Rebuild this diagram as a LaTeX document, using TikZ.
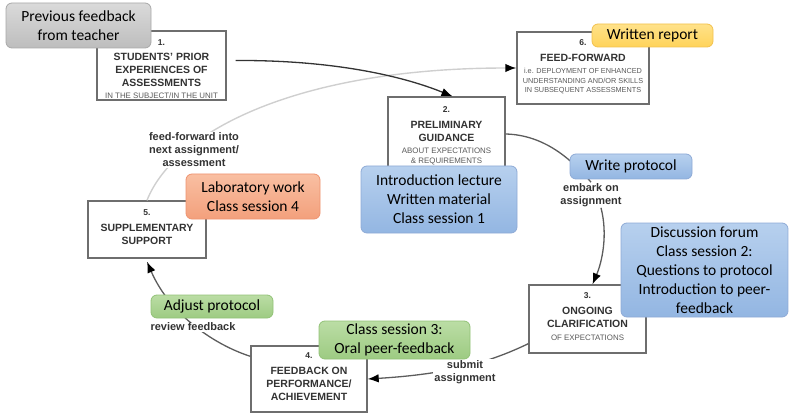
\documentclass[tikz,border=0pt]{standalone}
\usepackage{fontspec}
\setmainfont{Liberation Sans}
\newfontfamily\calfont{Carlito}
\usetikzlibrary{arrows.meta}
\definecolor{boxline}{HTML}{6E6E6E}
\definecolor{titlegray}{HTML}{333333}
\definecolor{subgray}{HTML}{5A5A5A}
\definecolor{conngray}{HTML}{5C5C5C}
\definecolor{ffgray}{HTML}{CFCFCF}
\definecolor{grayT}{HTML}{DADADA}\definecolor{grayB}{HTML}{BDBDBD}\definecolor{grayL}{HTML}{A8A8A8}
\definecolor{yelT}{HTML}{FFE28A}\definecolor{yelB}{HTML}{FFD35A}\definecolor{yelL}{HTML}{F2C14E}
\definecolor{bluT}{HTML}{B7D0EE}\definecolor{bluB}{HTML}{93B6E2}\definecolor{bluL}{HTML}{8EAAD6}
\definecolor{oraT}{HTML}{F9BFA2}\definecolor{oraB}{HTML}{F3A07C}\definecolor{oraL}{HTML}{EE9370}
\definecolor{grnT}{HTML}{BBDDA5}\definecolor{grnB}{HTML}{9DCB82}\definecolor{grnL}{HTML}{92C277}
\newcommand\stnum[1]{{\fontsize{8.5}{10}\selectfont #1}}
\newcommand\stsub[1]{{\mdseries\color{subgray}\fontsize{7.9}{9}\selectfont #1}}
\newcommand\stsubs[1]{{\mdseries\color{subgray}\fontsize{7.3}{9}\selectfont #1}}
\begin{document}
\begin{tikzpicture}[x=1pt,y=-1pt,
  stagebox/.style={draw=boxline, line width=1.4pt, fill=white, inner sep=0pt},
  stagetext/.style={inner sep=0pt, align=center, text=titlegray,
    font=\bfseries\fontsize{10.5}{13}\selectfont},
  callout/.style={rounded corners=6pt, line width=0.8pt, inner sep=0pt, align=center,
    text=black, font=\calfont\fontsize{15.5}{19}\selectfont},
  grayc/.style={callout, draw=grayL, top color=grayT, bottom color=grayB},
  yelc/.style={callout, draw=yelL, top color=yelT, bottom color=yelB},
  bluc/.style={callout, draw=bluL, top color=bluT, bottom color=bluB},
  orac/.style={callout, draw=oraL, top color=oraT, bottom color=oraB},
  grnc/.style={callout, draw=grnL, top color=grnT, bottom color=grnB},
  lbl/.style={font=\bfseries\fontsize{11}{13}\selectfont, text=titlegray, fill=white,
    align=center, inner sep=1pt},
  conn/.style={draw=conngray, line width=1.3pt},
  arr/.style={conn, -{Latex[length=11pt,width=8.5pt,color=black]}},
  ffarr/.style={draw=ffgray, line width=1.4pt, -{Latex[length=11pt,width=8.5pt,color=black]}}
]
\useasboundingbox (0,0) rectangle (789,414);
% stage boxes
\node[stagebox, minimum width=129pt, minimum height=69pt] (b1) at (161.5,65.5) {};
\node[stagetext] (t1) at ([yshift=-3.5pt]b1.center)
  {\stnum{1.}\\[2.5pt]STUDENTS' PRIOR\\EXPERIENCES OF\\ASSESSMENTS\\[-1pt]\stsub{IN THE SUBJECT/IN THE UNIT}};
\node[stagebox, minimum width=117pt, minimum height=74pt] (b2) at (446.5,134) {};
\node[stagetext] (t2) at ([yshift=-1.5pt]b2.center)
  {\stnum{2.}\\[3pt]PRELIMINARY\\GUIDANCE\\[-1pt]\stsub{ABOUT EXPECTATIONS}\\[-3pt]\stsub{\& REQUIREMENTS}};
\node[stagebox, minimum width=117pt, minimum height=68pt] (b3) at (587.5,319) {};
\node[stagetext] (t3) at ([yshift=2pt]b3.center)
  {\stnum{3.}\\[3pt]ONGOING\\CLARIFICATION\\\stsub{OF EXPECTATIONS}};
\node[stagebox, minimum width=116pt, minimum height=66pt] (b4) at (309,379) {};
\node[stagetext] (t4) at ([yshift=2.5pt]b4.center)
  {\stnum{4.}\\[3pt]FEEDBACK ON\\PERFORMANCE/\\ACHIEVEMENT};
\node[stagebox, minimum width=118pt, minimum height=57pt] (b5) at (147,229.5) {};
\node[stagetext] (t5) at ([yshift=2.5pt]b5.center)
  {\stnum{5.}\\[3pt]SUPPLEMENTARY\\SUPPORT};
\node[stagebox, minimum width=132pt, minimum height=72pt] (b6) at (583,68) {};
\node[stagetext] (t6) at ([yshift=1pt]b6.center)
  {\stnum{6.}\\[3pt]FEED-FORWARD\\[-1pt]\stsubs{i.e. DEPLOYMENT OF ENHANCED}\\[-3.5pt]\stsubs{UNDERSTANDING AND/OR SKILLS}\\[-3.5pt]\stsubs{IN SUBSEQUENT ASSESSMENTS}};
% connectors
\draw[ffarr] (b5.north) .. controls (175,130) and (300,68) .. (b6.west);
\draw[arr, draw=titlegray] ([xshift=9pt,yshift=5pt]b1.east) .. controls (330,60) and (400,75) .. ([xshift=6pt]b2.north);
% labels
\node[lbl] (ff) at (194,150) {feed-forward into\\next assignment/\\assessment};
\node[lbl] (em) at (591,195) {embark on\\assignment};
\node[lbl] (sub) at (465,372) {submit\\assignment};
\node[lbl] (rev) at (193,327) {review feedback};
\draw[conn] (b2.east) .. controls (545,135) and (572,160) .. (em.north);
\draw[arr] ([xshift=10pt]em.south) .. controls (608,235) and (602,262) .. ([xshift=5pt]b3.north);
\draw[arr] ([yshift=10pt]b3.south west) .. controls (490,362) and (450,374) .. (b4.east);
\draw[arr] ([yshift=-11pt]b4.north west) .. controls (215,345) and (170,315) .. ([yshift=-3pt]b5.south);
\node[lbl] at (sub) {submit\\assignment};
\node[lbl] at (rev) {review feedback};
% callouts
\node[grayc, minimum width=145pt, minimum height=45pt] (cprev) at (78.5,25.5) {Previous feedback\\from teacher};
\node[yelc, minimum width=121pt, minimum height=23pt] (crep) at (652.5,35.5) {Written report};
\node[bluc, minimum width=156pt, minimum height=67pt] (cintro) at (439,199.5) {Introduction lecture\\Written material\\Class session 1};
\node[bluc, minimum width=122pt, minimum height=25pt] (cwrite) at (631,166.5) {Write protocol};
\node[bluc, minimum width=167pt, minimum height=94pt] (cdisc) at (704.5,270) {Discussion forum\\Class session 2:\\Questions to protocol\\Introduction to peer-\\feedback};
\node[orac, minimum width=134pt, minimum height=45pt] (clab) at (253,196.5) {Laboratory work\\Class session 4};
\node[grnc, minimum width=122pt, minimum height=23pt] (cadj) at (212,306.5) {Adjust protocol};
\node[grnc, minimum width=151pt, minimum height=38pt] (coral) at (394.5,340) {Class session 3:\\Oral peer-feedback};
\end{tikzpicture}
\end{document}
